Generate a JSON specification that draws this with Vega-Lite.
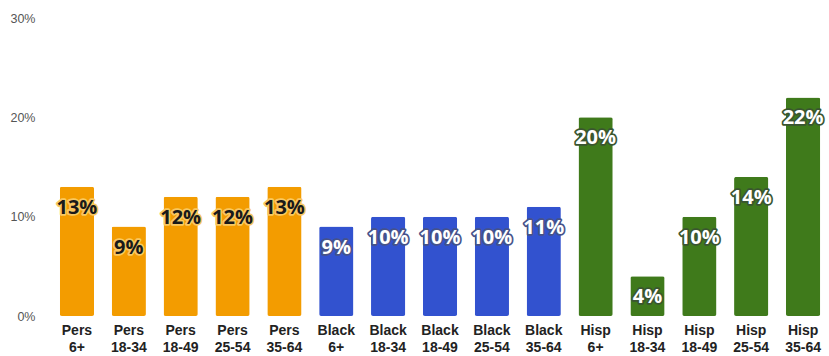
{
  "$schema": "https://vega.github.io/schema/vega-lite/v6.json",
  "autosize": {"type": "none"},
  "padding": {"left": 51, "top": 18, "right": 0, "bottom": 40},
  "width": 778,
  "height": 298,
  "background": "white",
  "config": {
    "view": {"stroke": null},
    "font": "Liberation Sans"
  },
  "data": {
    "values": [
      {"segment": "Pers 6+", "group": "Pers", "share": 13},
      {"segment": "Pers 18-34", "group": "Pers", "share": 9},
      {"segment": "Pers 18-49", "group": "Pers", "share": 12},
      {"segment": "Pers 25-54", "group": "Pers", "share": 12},
      {"segment": "Pers 35-64", "group": "Pers", "share": 13},
      {"segment": "Black 6+", "group": "Black", "share": 9},
      {"segment": "Black 18-34", "group": "Black", "share": 10},
      {"segment": "Black 18-49", "group": "Black", "share": 10},
      {"segment": "Black 25-54", "group": "Black", "share": 10},
      {"segment": "Black 35-64", "group": "Black", "share": 11},
      {"segment": "Hisp 6+", "group": "Hisp", "share": 20},
      {"segment": "Hisp 18-34", "group": "Hisp", "share": 4},
      {"segment": "Hisp 18-49", "group": "Hisp", "share": 10},
      {"segment": "Hisp 25-54", "group": "Hisp", "share": 14},
      {"segment": "Hisp 35-64", "group": "Hisp", "share": 22}
    ]
  },
  "transform": [
    {"calculate": "datum.share + '%'", "as": "share_label"}
  ],
  "encoding": {
    "x": {
      "field": "segment",
      "type": "nominal",
      "sort": null,
      "scale": {"paddingInner": 0.34, "paddingOuter": 0.17},
      "axis": {
        "title": null,
        "labelAngle": 0,
        "domain": false,
        "ticks": false,
        "labelPadding": 7,
        "labelFont": "Liberation Sans",
        "labelFontWeight": "bold",
        "labelFontSize": 14,
        "labelColor": "#222222",
        "labelLineHeight": 17,
        "labelExpr": "split(datum.label, ' ')"
      }
    },
    "y": {
      "field": "share",
      "type": "quantitative",
      "scale": {"domain": [0, 30], "nice": false},
      "axis": {
        "title": null,
        "values": [0, 10, 20, 30],
        "domain": false,
        "ticks": false,
        "grid": false,
        "labelPadding": 16,
        "labelFontSize": 12.5,
        "labelColor": "#555555",
        "labelExpr": "datum.value + '%'"
      }
    }
  },
  "layer": [
    {
      "mark": {"type": "bar", "cornerRadius": 2},
      "encoding": {
        "color": {
          "field": "group",
          "type": "nominal",
          "legend": null,
          "scale": {"domain": ["Pers", "Black", "Hisp"], "range": ["#F39C00", "#3252CF", "#3F7A1B"]}
        }
      }
    },
    {
      "mark": {"type": "text", "baseline": "middle", "dy": 21, "fontSize": 20, "fontWeight": "bold", "font": "Open Sans", "strokeWidth": 3.5, "strokeJoin": "round", "fill": null},
      "encoding": {
        "text": {"field": "share_label", "type": "nominal"},
        "stroke": {
          "field": "group",
          "type": "nominal",
          "legend": null,
          "scale": {"domain": ["Pers", "Black", "Hisp"], "range": ["#F9C860", "#46528A", "#3A5530"]}
        }
      }
    },
    {
      "mark": {"type": "text", "baseline": "middle", "dy": 21, "fontSize": 20, "fontWeight": "bold", "font": "Open Sans"},
      "encoding": {
        "text": {"field": "share_label", "type": "nominal"},
        "fill": {
          "field": "group",
          "type": "nominal",
          "legend": null,
          "scale": {"domain": ["Pers", "Black", "Hisp"], "range": ["#1A1A1A", "#FFFFFF", "#FFFFFF"]}
        }
      }
    }
  ]
}
